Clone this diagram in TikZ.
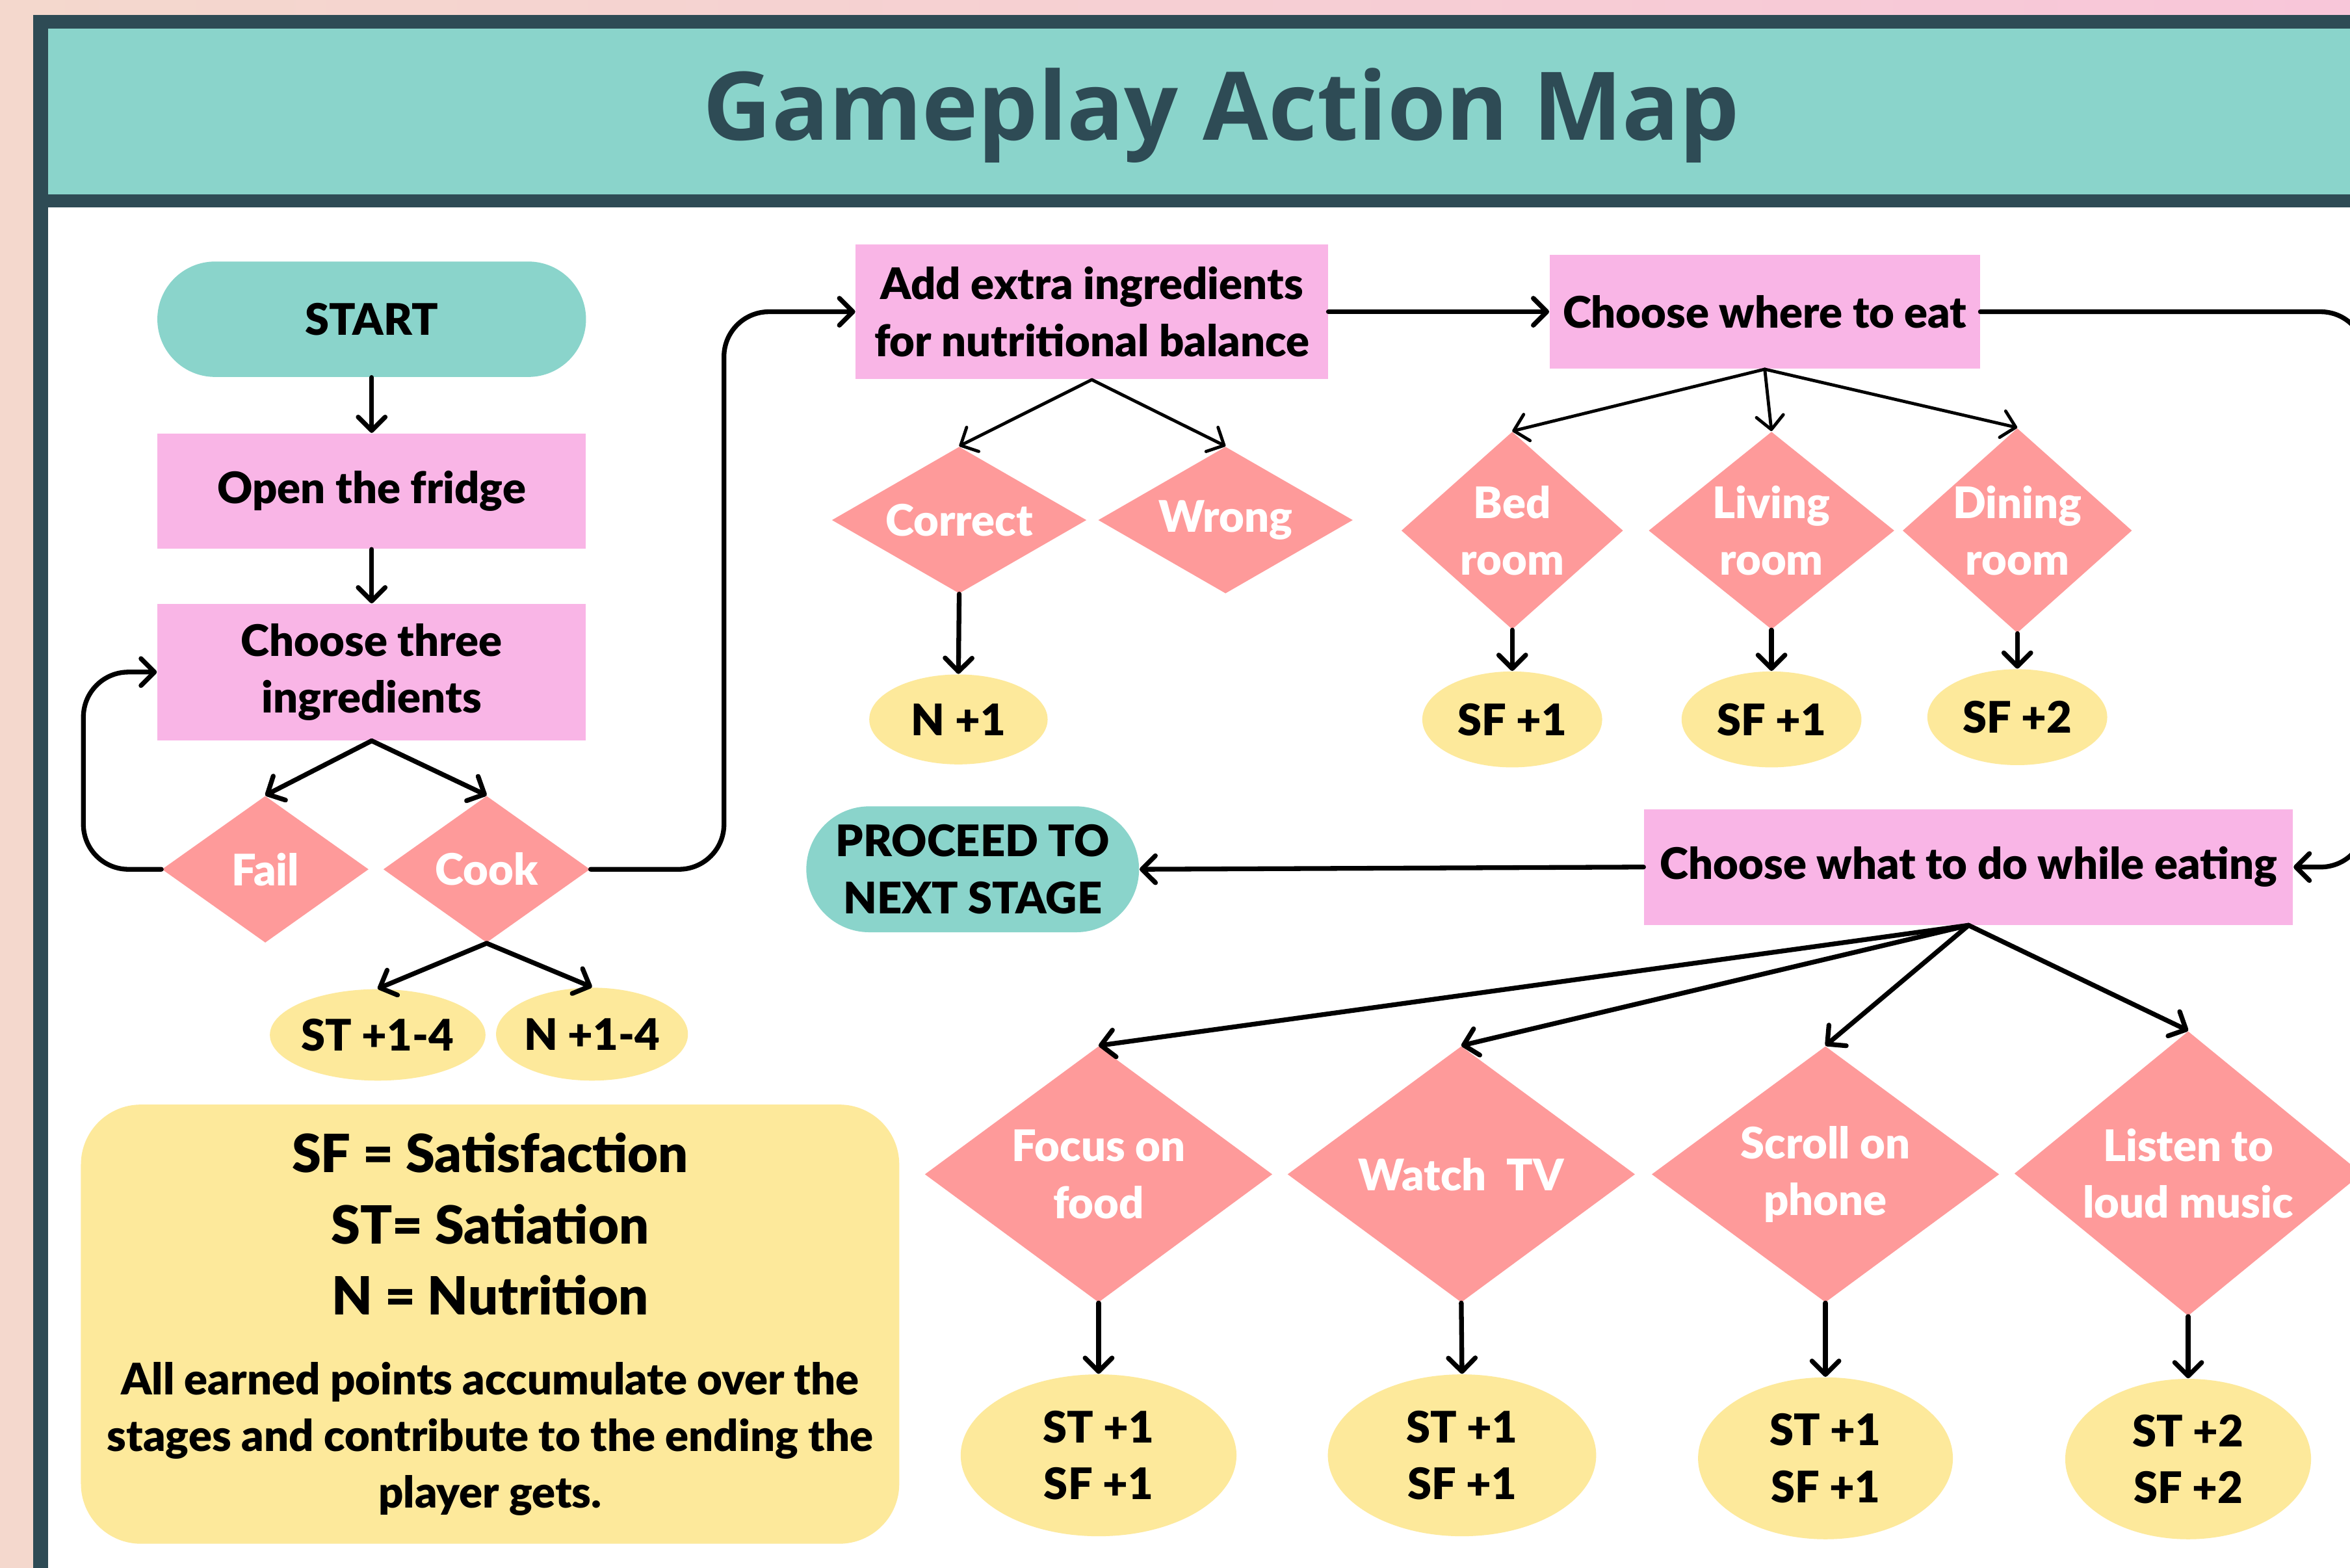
\documentclass[tikz,border=0pt]{standalone}
\usepackage{fontspec}
\setmainfont{Lato}[BoldFont={Lato Black}]
\newfontfamily\titlefamily{Open Sans}
\usetikzlibrary{arrows.meta}
\usetikzlibrary{positioning}
\usetikzlibrary{shapes.geometric}

\definecolor{frameDark}{HTML}{2E4B55}
\definecolor{mintTeal}{HTML}{8AD4CB}
\definecolor{boxPink}{HTML}{F9B5E6}
\definecolor{choiceRed}{HTML}{FE9A9A}
\definecolor{scoreYellow}{HTML}{FDE99B}
\definecolor{bgPeach}{HTML}{F4D8CD}
\definecolor{bgRose}{HTML}{F8C6D9}

\newcommand{\flowfont}{\fontsize{16.5}{21.6}\selectfont\bfseries}

\begin{document}
\begin{tikzpicture}[
    x=0.2mm, y=-0.2mm,
    actionBox/.style={
        rectangle, fill=boxPink,
        minimum width=57.2mm, minimum height=15.4mm,
        inner sep=0pt, font=\flowfont, align=center
    },
    stagePill/.style={
        actionBox, fill=mintTeal, rounded corners=7.7mm
    },
    choiceDiamond/.style={
        diamond, fill=choiceRed, text=white,
        inner sep=0pt, font=\flowfont, align=center
    },
    scoreOval/.style={
        ellipse, fill=scoreYellow,
        inner sep=0pt, font=\flowfont, align=center
    },
    flowArrow/.style={
        -{Straight Barb[length=1.8mm,width=3.6mm,round]},
        line width=1.8pt, line cap=round
    },
    thinArrow/.style={flowArrow, line width=1.2pt},
    loopArrow/.style={flowArrow, rounded corners=6mm}
]
\useasboundingbox (0,0) rectangle (1568,1046);
\clip (0,0) rectangle (1568,1046);

% page and frame
\fill[left color=bgPeach, right color=bgRose] (0,0) rectangle (1568,1046);
\fill[frameDark] (22,10) rectangle (1600,1080);
\fill[white] (32,138.5) rectangle (1600,1080);
\fill[mintTeal] (32,19) rectangle (1600,129.5);
\node[font=\titlefamily\fontsize{36}{40}\selectfont\bfseries, text=frameDark] (title) at (815,77) {Gameplay Action Map};

% stage one
\node[stagePill] (start) at (248,213) {START};
\node[actionBox, below=7.4mm of start] (fridge) {Open the fridge};
\node[actionBox, minimum height=18.2mm, below=7.2mm of fridge] (choose) {Choose three\\ingredients};
\node[choiceDiamond, minimum width=27.6mm, minimum height=19.6mm, shape aspect=1.4] (fail) at (177,580) {Fail};
\node[choiceDiamond, minimum width=27.6mm, minimum height=19.6mm, shape aspect=1.4, right=1.8mm of fail] (cook) {Cook};
\node[scoreOval, minimum width=25.6mm, minimum height=12.2mm] (stScore) at (252,690.5) {ST +1-4};
\node[scoreOval, minimum width=25.2mm, minimum height=12.4mm] (nScore) at (395,690) {N +1-4};

\draw[flowArrow] (start) -- (fridge);
\draw[flowArrow] (fridge) -- (choose);
\draw[flowArrow] (choose.south) -- (fail.north);
\draw[flowArrow] (choose.south) -- (cook.north);
\draw[loopArrow] (fail.west) -- ++(-52,0) |- (choose.west);
\draw[flowArrow] (cook.south) -- (stScore.north);
\draw[flowArrow] (cook.south) -- (nScore.north);

% legend
\node[rectangle, rounded corners=8mm, fill=scoreYellow, minimum width=109.2mm, minimum height=58.6mm, inner sep=0pt] (legend) at (327,883.5) {\parbox{108mm}{\centering\bfseries
    \fontsize{20}{27}\selectfont SF = Satisfaction\\ST= Satiation\\N = Nutrition\par
    \vspace{9pt}
    \fontsize{16.5}{21.4}\selectfont All earned points accumulate over the\\stages and contribute to the ending the\\player gets.\par}};

% stage two
\node[actionBox, minimum width=63mm, minimum height=18mm] (add) at (728.5,208) {Add extra ingredients\\for nutritional balance};
\node[choiceDiamond, minimum width=34mm, minimum height=19.6mm, shape aspect=1.73] (correct) at (640,347) {Correct};
\node[choiceDiamond, minimum width=34mm, minimum height=19.6mm, shape aspect=1.73, right=1.4mm of correct] (wrong) {Wrong};
\node[scoreOval, minimum width=23.8mm, minimum height=12mm] (correctScore) at (639.5,480) {N +1};

\draw[loopArrow] (cook.east) -- ++(89,0) |- (add.west);
\draw[thinArrow] (add.south) -- (correct.north);
\draw[thinArrow] (add.south) -- (wrong.north);
\draw[flowArrow] (correct.south) -- (correctScore.north);

% stage three
\node[actionBox, minimum width=57.4mm, minimum height=15.2mm] (where) at (1177.5,208) {Choose where to eat};
\node[choiceDiamond, minimum width=29.6mm, minimum height=26.4mm, shape aspect=1.12] (bed) at (1009,354) {Bed\\room};
\node[choiceDiamond, minimum width=32.8mm, minimum height=26.4mm, shape aspect=1.24] (living) at (1182,354) {Living\\room};
\node[choiceDiamond, minimum width=29.6mm, minimum height=26.4mm, shape aspect=1.12] (dining) at (1346,354) {Dining\\room};
\node[scoreOval, minimum width=24mm, minimum height=12.8mm] (bedScore) at (1009,480) {SF +1};
\node[scoreOval, minimum width=24mm, minimum height=12.8mm] (livingScore) at (1182,480) {SF +1};
\node[scoreOval, minimum width=24mm, minimum height=12.8mm] (diningScore) at (1346,478.5) {SF +2};

\draw[flowArrow] (add.east) -- (where.west);
\draw[thinArrow] (where.south) -- (bed.north);
\draw[thinArrow] (where.south) -- (living.north);
\draw[thinArrow] (where.south) -- (dining.north);
\draw[flowArrow] (bed.south) -- (bedScore.north);
\draw[flowArrow] (living.south) -- (livingScore.north);
\draw[flowArrow] (dining.south) -- (diningScore.north);

% stage four
\node[actionBox, minimum width=86.6mm] (what) at (1313.5,578.5) {Choose what to do while eating};
\node[stagePill, minimum width=44.4mm, minimum height=16.8mm, rounded corners=8.4mm] (proceed) at (649,580) {PROCEED TO\\NEXT STAGE};
\node[choiceDiamond, minimum width=46.4mm, minimum height=34.2mm, shape aspect=1.36] (focus) at (733,783.5) {Focus on\\food};
\node[choiceDiamond, minimum width=46.4mm, minimum height=34.2mm, shape aspect=1.36] (watch) at (975,783.5) {Watch\ \ TV};
\node[choiceDiamond, minimum width=46.4mm, minimum height=34.2mm, shape aspect=1.36] (scroll) at (1218,783.5) {Scroll on\\phone};
\node[choiceDiamond, minimum width=46.4mm, minimum height=38mm, shape aspect=1.22] (listen) at (1460,783) {Listen to\\loud music};
\node[scoreOval, minimum width=36.8mm, minimum height=21.6mm] (focusScore) at (733,971) {ST +1\\SF +1};
\node[scoreOval, minimum width=35.8mm, minimum height=21.6mm] (watchScore) at (975.5,971) {ST +1\\SF +1};
\node[scoreOval, minimum width=34mm, minimum height=21.6mm] (scrollScore) at (1218,973) {ST +1\\SF +1};
\node[scoreOval, minimum width=32.8mm, minimum height=21.4mm] (listenScore) at (1460,973.5) {ST +2\\SF +2};

\draw[loopArrow] (where.east) -- ++(257,0) |- (what.east);
\draw[flowArrow] (what.west) -- (proceed.east);
\draw[flowArrow] (what.south) -- (focus.north);
\draw[flowArrow] (what.south) -- (watch.north);
\draw[flowArrow] (what.south) -- (scroll.north);
\draw[flowArrow] (what.south) -- (listen.north);
\draw[flowArrow] (focus.south) -- (focusScore.north);
\draw[flowArrow] (watch.south) -- (watchScore.north);
\draw[flowArrow] (scroll.south) -- (scrollScore.north);
\draw[flowArrow] (listen.south) -- (listenScore.north);
\end{tikzpicture}
\end{document}
